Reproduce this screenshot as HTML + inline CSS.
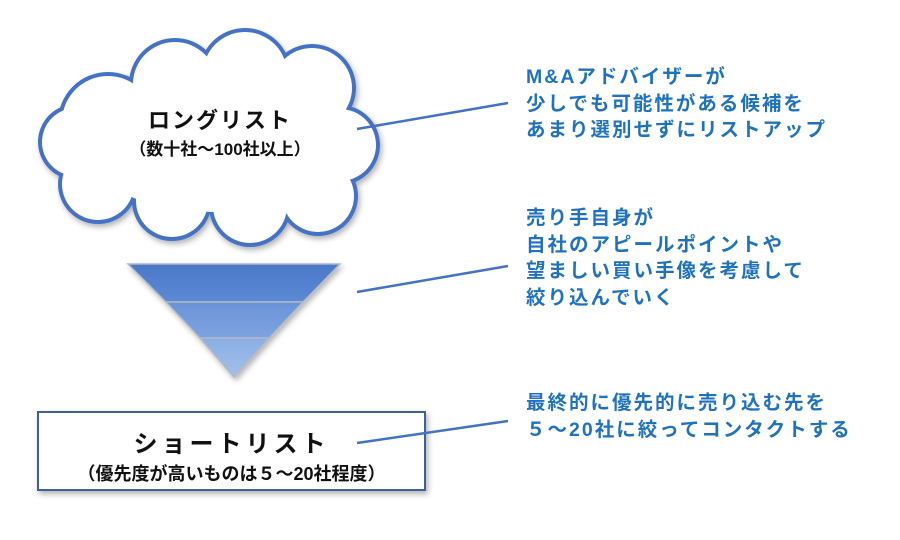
<!DOCTYPE html>
<html><head><meta charset="utf-8">
<style>
html,body{margin:0;padding:0;background:#fff;}
body{width:900px;height:540px;position:relative;overflow:hidden;font-family:"Liberation Sans","Noto Sans CJK JP",sans-serif;}
.t{position:absolute;left:526px;color:#1f72c0;font-weight:bold;font-size:19.5px;letter-spacing:2px;line-height:26.5px;white-space:nowrap;}
.c{position:absolute;text-align:center;font-weight:bold;color:#111;white-space:nowrap;}
</style></head><body>
<svg width="900" height="540" style="position:absolute;left:0;top:0">
<defs>
<filter id="sh" x="-10%" y="-10%" width="130%" height="130%"><feDropShadow dx="2" dy="3" stdDeviation="3" flood-color="#000" flood-opacity="0.3"/></filter>
<linearGradient id="g1" x1="0" y1="0" x2="0" y2="1"><stop offset="0" stop-color="#4a78c8"/><stop offset="1" stop-color="#5d8ad6"/></linearGradient>
<linearGradient id="g2" x1="0" y1="0" x2="0" y2="1"><stop offset="0" stop-color="#6a93d8"/><stop offset="1" stop-color="#7ea3e0"/></linearGradient>
<linearGradient id="g3" x1="0" y1="0" x2="0" y2="1"><stop offset="0" stop-color="#8aaee4"/><stop offset="1" stop-color="#a5c0ea"/></linearGradient>
</defs>
<g filter="url(#sh)">
<g fill="#4472c4">
<circle cx="108" cy="122" r="50"/><circle cx="175" cy="84" r="46"/><circle cx="245" cy="74" r="46"/><circle cx="312" cy="88" r="44"/><circle cx="340" cy="145" r="40"/><circle cx="318" cy="196" r="40"/><circle cx="250" cy="206" r="41"/><circle cx="172" cy="201" r="40"/><circle cx="98" cy="184" r="40"/><circle cx="76" cy="142" r="38"/>
</g>
<g fill="#fff">
<circle cx="108" cy="122" r="46"/><circle cx="175" cy="84" r="42"/><circle cx="245" cy="74" r="42"/><circle cx="312" cy="88" r="40"/><circle cx="340" cy="145" r="36"/><circle cx="318" cy="196" r="36"/><circle cx="250" cy="206" r="37"/><circle cx="172" cy="201" r="36"/><circle cx="98" cy="184" r="36"/><circle cx="76" cy="142" r="34"/>
<ellipse cx="215" cy="142" rx="135" ry="70"/>
</g>
</g>
<g filter="url(#sh)">
<polygon points="128,264 340,264 303,302 166,302" fill="url(#g1)" stroke="#b0b8c8" stroke-width="1.5"/>
<polygon points="166,302 303,302 269,338 200,338" fill="url(#g2)" stroke="#b0b8c8" stroke-width="1.5"/>
<polygon points="200,338 269,338 234,377" fill="url(#g3)" stroke="#b0b8c8" stroke-width="1.5"/>
</g>
<rect x="38" y="412" width="387" height="78" fill="#fff" stroke="#3d5f9a" stroke-width="2" filter="url(#sh)"/>
<g stroke="#4472c4" stroke-width="2.5">
<line x1="357" y1="129" x2="508" y2="103"/>
<line x1="357" y1="292" x2="508" y2="266"/>
<line x1="357" y1="443" x2="508" y2="421"/>
</g>
</svg>
<div class="c" style="left:80px;width:280px;top:103px;font-size:22px;letter-spacing:2px;">ロングリスト</div>
<div class="c" style="left:80px;width:280px;top:135px;font-size:17px;">（数十社～100社以上）</div>
<div class="c" style="left:38px;width:387px;top:424px;font-size:24px;letter-spacing:4px;">ショートリスト</div>
<div class="c" style="left:38px;width:387px;top:460px;font-size:18px;">（優先度が高いものは５～20社程度）</div>
<div class="t" style="top:64px">M&amp;Aアドバイザーが<br>少しでも可能性がある候補を<br>あまり選別せずにリストアップ</div>
<div class="t" style="top:205px">売り手自身が<br>自社のアピールポイントや<br>望ましい買い手像を考慮して<br>絞り込んでいく</div>
<div class="t" style="top:390px">最終的に優先的に売り込む先を<br>５～20社に絞ってコンタクトする</div>
</body></html>
